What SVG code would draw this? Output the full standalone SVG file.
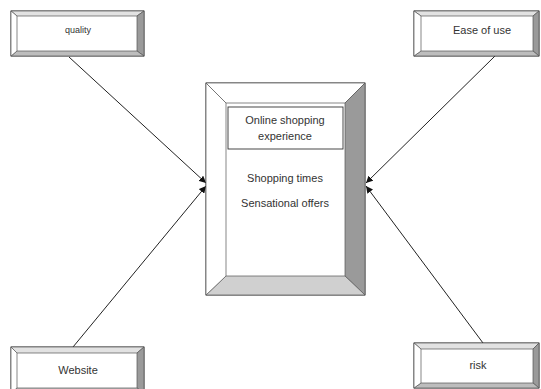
<svg xmlns="http://www.w3.org/2000/svg" width="541" height="389" viewBox="0 0 541 389">
<defs>
<marker id="ah" viewBox="0 0 10 10" refX="10" refY="5" markerWidth="7" markerHeight="7" orient="auto" markerUnits="userSpaceOnUse">
<path d="M0,0 L10,5 L0,10 z" fill="#111"/>
</marker>
<style>
.o{fill:#fff;stroke:#333;stroke-width:0.9}
.w{fill:#fff;stroke:#555;stroke-width:0.7}
.lt{fill:#e2e2e2;stroke:#555;stroke-width:0.7}
.md{fill:#bdbdbd;stroke:#555;stroke-width:0.7}
.dk{fill:#9a9a9a;stroke:#555;stroke-width:0.7}
.cb{fill:#d0d0d0;stroke:#555;stroke-width:0.7}
.in{fill:#fff;stroke:#333;stroke-width:0.9}
.t{font-family:"Liberation Sans",Arial,sans-serif;fill:#333;text-anchor:middle}
.c{stroke:#222;stroke-width:1;fill:none;marker-end:url(#ah)}
</style>
</defs>
<rect width="541" height="389" fill="#fff"/>
<g id="connectors">
<line class="c" x1="69" y1="57" x2="206" y2="183"/>
<line class="c" x1="495" y1="56" x2="366" y2="183"/>
<line class="c" x1="73" y1="347" x2="206" y2="186"/>
<line class="c" x1="483" y1="343" x2="366" y2="186"/>
</g>
<g id="quality">
<rect class="o" x="11" y="11" width="133" height="45"/>
<polygon class="lt" points="11,11 144,11 137,16 17,16"/>
<polygon class="dk" points="144,11 144,56 137,51 137,16"/>
<polygon class="md" points="11,56 144,56 137,51 17,51"/>
<polygon class="w" points="11,11 17,16 17,51 11,56"/>
<text class="t" x="78" y="33" font-size="9">quality</text>
</g>
<g id="ease">
<rect class="o" x="414" y="11" width="125" height="45"/>
<polygon class="lt" points="414,11 539,11 533,16 421,16"/>
<polygon class="dk" points="539,11 539,56 533,51 533,16"/>
<polygon class="md" points="414,56 539,56 533,51 421,51"/>
<polygon class="w" points="414,11 421,16 421,51 414,56"/>
<text class="t" x="482" y="34" font-size="11">Ease of use</text>
</g>
<g id="website">
<rect class="o" x="11" y="347" width="133" height="46"/>
<polygon class="lt" points="11,347 144,347 137,353 17,353"/>
<polygon class="dk" points="144,347 144,393 137,388 137,353"/>
<polygon class="md" points="11,393 144,393 137,388 17,388"/>
<polygon class="w" points="11,347 17,353 17,388 11,393"/>
<text class="t" x="78" y="374" font-size="11">Website</text>
</g>
<g id="risk">
<rect class="o" x="414" y="343" width="125" height="45"/>
<polygon class="lt" points="414,343 539,343 533,349 421,349"/>
<polygon class="dk" points="539,343 539,388 533,383 533,349"/>
<polygon class="md" points="414,388 539,388 533,383 421,383"/>
<polygon class="w" points="414,343 421,349 421,383 414,388"/>
<text class="t" x="478" y="369" font-size="11">risk</text>
</g>
<g id="center">
<rect class="o" x="206" y="83" width="159" height="212"/>
<polygon class="w" points="206,83 365,83 345,103 226,103"/>
<polygon class="dk" points="365,83 365,295 345,276 345,103"/>
<polygon class="cb" points="206,295 365,295 345,276 226,276"/>
<polygon class="w" points="206,83 226,103 226,276 206,295"/>
<rect class="in" x="228" y="107" width="115" height="42"/>
<text class="t" x="285" y="124" font-size="11">Online shopping</text>
<text class="t" x="285" y="140" font-size="11">experience</text>
<text class="t" x="285" y="182" font-size="11">Shopping times</text>
<text class="t" x="285" y="207" font-size="11">Sensational offers</text>
</g>
</svg>
